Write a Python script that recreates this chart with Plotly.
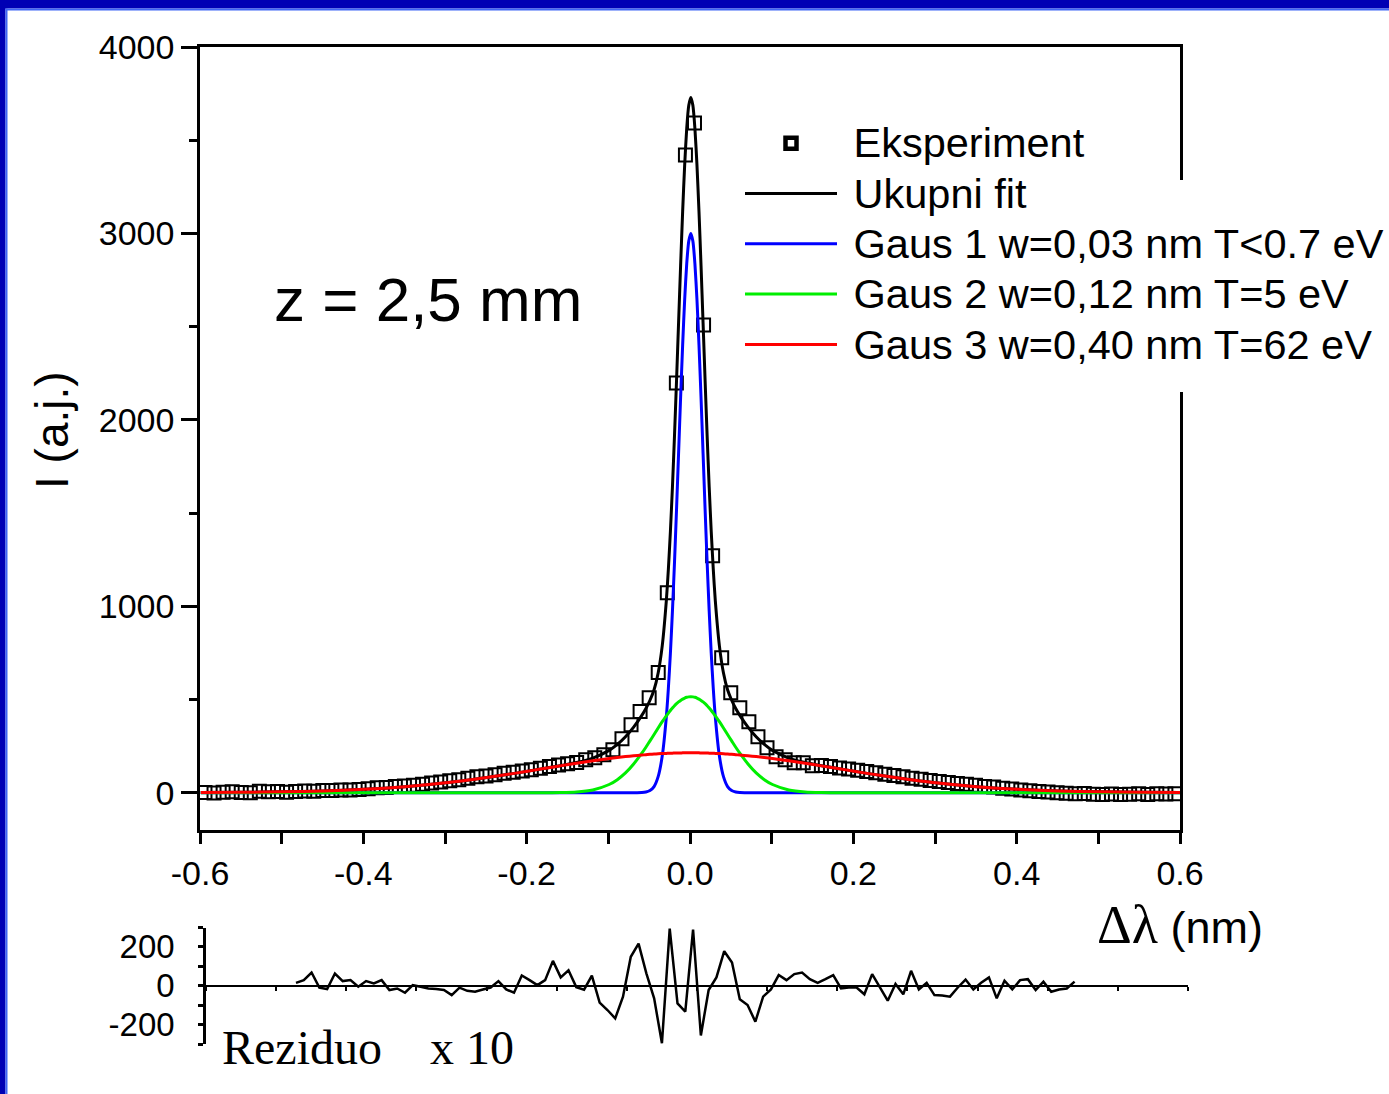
import plotly.graph_objects as go

# ---------------- data ----------------
data_x = [-0.5939, -0.5828, -0.5717, -0.5606, -0.5495, -0.5384, -0.5273, -0.5162, -0.5051, -0.4940,
          -0.4829, -0.4718, -0.4607, -0.4496, -0.4385, -0.4274, -0.4163, -0.4052, -0.3941, -0.3830,
          -0.3719, -0.3608, -0.3497, -0.3386, -0.3275, -0.3164, -0.3053, -0.2942, -0.2831, -0.2720,
          -0.2609, -0.2498, -0.2387, -0.2276, -0.2165, -0.2054, -0.1943, -0.1832, -0.1721, -0.1610,
          -0.1499, -0.1388, -0.1277, -0.1166, -0.1055, -0.0944, -0.0833, -0.0722, -0.0611, -0.0500,
          -0.0389, -0.0278, -0.0167, -0.0056, 0.0055, 0.0166, 0.0277, 0.0388, 0.0499, 0.0610,
          0.0721, 0.0832, 0.0943, 0.1054, 0.1165, 0.1276, 0.1387, 0.1498, 0.1609, 0.1720,
          0.1831, 0.1942, 0.2053, 0.2164, 0.2275, 0.2386, 0.2497, 0.2608, 0.2719, 0.2830,
          0.2941, 0.3052, 0.3163, 0.3274, 0.3385, 0.3496, 0.3607, 0.3718, 0.3829, 0.3940,
          0.4051, 0.4162, 0.4273, 0.4384, 0.4495, 0.4606, 0.4717, 0.4828, 0.4939, 0.5050,
          0.5161, 0.5272, 0.5383, 0.5494, 0.5605, 0.5716, 0.5827, 0.5938]
data_y = [1, -2, 3, 5, 1, 0, 8, 5, 7, 2,
          6, 9, 8, 12, 12, 14, 15, 17, 21, 26,
          28, 33, 36, 40, 46, 52, 57, 64, 70, 78,
          85, 90, 96, 104, 110, 116, 123, 131, 140, 148,
          156, 162, 177, 188, 204, 230, 290, 365, 436, 509,
          645, 1072, 2198, 3421, 3592, 2509, 1271, 724, 536, 456,
          381, 300, 241, 193, 177, 161, 161, 145, 146, 140,
          133, 127, 121, 114, 107, 99, 92, 85, 78, 72,
          66, 60, 55, 50, 45, 40, 34, 30, 24, 20,
          14, 10, 6, 4, 0, -3, -6, -4, -8, -9,
          -7, -10, -8, -6, -9, -5, -7, -6]

fit_x = [-0.599, -0.549, -0.499, -0.449, -0.399, -0.349, -0.299, -0.249, -0.219, -0.199,
         -0.179, -0.159, -0.139, -0.119, -0.099, -0.089, -0.079, -0.069, -0.059, -0.054,
         -0.049, -0.044, -0.039, -0.034, -0.029, -0.0265, -0.024, -0.0215, -0.019, -0.0165,
         -0.014, -0.0115, -0.009, -0.0065, -0.004, -0.0015, 0.001,
         0.0035, 0.006, 0.0085, 0.011, 0.0135, 0.016, 0.0185, 0.021, 0.0235, 0.026,
         0.0285, 0.031, 0.036, 0.041, 0.046, 0.051, 0.056, 0.061, 0.071, 0.081,
         0.091, 0.101, 0.121, 0.141, 0.161, 0.181, 0.201, 0.221, 0.251, 0.301,
         0.351, 0.401, 0.451, 0.501, 0.551, 0.601]
fit_total = [1, 2, 5, 9, 18, 32, 53, 82, 101, 115,
             130, 145, 162, 186, 227, 259, 300, 352, 415, 452,
             496, 552, 642, 788, 1029, 1198, 1401, 1640, 1913, 2210,
             2520, 2828, 3118, 3369, 3564, 3687, 3729,
             3687, 3564, 3369, 3118, 2828, 2520, 2210, 1913, 1640, 1401,
             1198, 1029, 788, 642, 552, 496, 452, 415, 352, 300,
             259, 227, 186, 162, 145, 130, 115, 101, 82, 53,
             32, 18, 9, 5, 2, 1]
gaus1 = [0, 0, 0, 0, 0, 0, 0, 0, 0, 0,
         0, 0, 0, 0, 0, 0, 0, 0, 1, 4,
         12, 33, 86, 197, 406, 559, 748, 974, 1233, 1519,
         1820, 2120, 2402, 2647, 2838, 2959, 3000,
         2959, 2838, 2647, 2402, 2120, 1820, 1519, 1233, 974, 748,
         559, 406, 197, 86, 33, 12, 4, 1, 0, 0,
         0, 0, 0, 0, 0, 0, 0, 0, 0, 0,
         0, 0, 0, 0, 0, 0]
gaus2 = [0, 0, 0, 0, 0, 0, 0, 0, 0, 0,
         0, 1, 4, 15, 44, 70, 106, 154, 212, 244,
         278, 312, 347, 381, 412, 427, 441, 454, 467, 478,
         487, 495, 502, 508, 512, 514, 515,
         514, 512, 508, 502, 495, 487, 478, 467, 454, 441,
         427, 412, 381, 347, 312, 278, 244, 212, 154, 106,
         70, 44, 15, 4, 1, 0, 0, 0, 0, 0,
         0, 0, 0, 0, 0, 0]
gaus3 = [1, 2, 5, 9, 18, 32, 53, 82, 101, 115,
         130, 144, 158, 171, 183, 189, 194, 198, 202, 204,
         206, 207, 209, 210, 211, 212, 212, 212, 213, 213,
         213, 213, 214, 214, 214, 214, 214,
         214, 214, 214, 214, 213, 213, 213, 213, 212, 212,
         212, 211, 210, 209, 207, 206, 204, 202, 198, 194,
         189, 183, 171, 158, 144, 130, 115, 101, 82, 53,
         32, 18, 9, 5, 2, 1]

# residual (x10), plotted on its own axis
res_x = data_x[2:103]
res_y = [15, 29, 68, -10, -17, 63, 24, 29, -5, 24,
         12, 29, -22, -14, -36, 3, -5, -14, -17, -22,
         -48, -10, -26, -31, -19, -9, 24, -19, -36, 53,
         29, 3, 29, 128, 43, 80, -7, -20, 52, -87,
         -125, -168, -56, 149, 217, 64, -65, -296, 294, -91,
         -133, 289, -256, -22, 43, 178, 120, -70, -99, -185,
         -56, -19, 55, 29, 60, 68, 34, 15, 34, 55,
         -14, -9, -9, -44, 60, -5, -77, 9, -44, 77,
         -19, 15, -48, -50, -56, -9, 32, -19, 15, 43,
         -65, 26, -19, 29, 34, -22, 21, -31, -19, -14,
         21]

x_tickvals = [-0.6, -0.4, -0.2, 0.0, 0.2, 0.4, 0.6]
x_ticktext = ["-0.6", "-0.4", "-0.2", "0.0", "0.2", "0.4", "0.6"]
y_tickvals = [0, 1000, 2000, 3000, 4000]
y_ticktext = ["0", "1000", "2000", "3000", "4000"]
r_tickvals = [-200, 0, 200]
r_ticktext = ["-200", "0", "200"]

names = ["Eksperiment", "Ukupni fit", "Gaus 1 w=0,03 nm T<0.7 eV",
         "Gaus 2 w=0,12 nm T=5 eV", "Gaus 3 w=0,40 nm T=62 eV"]

# ---------------- layout geometry ----------------
W, H = 1389, 1094
ML, MR, MT, MB = 200, 201, 47, 50
PW, PH = W - ML - MR, H - MT - MB


def px(x):
    return (x - ML) / PW


def py(y):
    return (H - MB - y) / PH


SANS = "Arial, Liberation Sans, sans-serif"
SERIF = "Times New Roman, Liberation Serif, serif"
LEG_SIZE = 41.5


def leg(name):
    return "<span style='font-size:%spx'>&nbsp;%s</span>" % (LEG_SIZE, name)


fig = go.Figure()
fig.add_trace(go.Scatter(x=data_x, y=data_y, mode="markers", showlegend=False,
                         marker=dict(symbol="square-open", size=13, color="black",
                                     line=dict(width=2, color="black")),
                         xaxis="x", yaxis="y"))
# legend entry for the experiment (thicker symbol, as in the reference legend)
fig.add_trace(go.Scatter(x=[None], y=[None], mode="markers", name=leg(names[0]),
                         marker=dict(symbol="square-open", size=11, color="black",
                                     line=dict(width=4.5, color="black"))))
line_kw = dict(shape="spline", smoothing=0.6, width=3)
fig.add_trace(go.Scatter(x=fit_x, y=fit_total, mode="lines", name=leg(names[1]),
                         line=dict(color="black", **line_kw)))
fig.add_trace(go.Scatter(x=fit_x, y=gaus1, mode="lines", name=leg(names[2]),
                         line=dict(color="#0000FF", **line_kw)))
fig.add_trace(go.Scatter(x=fit_x, y=gaus2, mode="lines", name=leg(names[3]),
                         line=dict(color="#00EE00", **line_kw)))
fig.add_trace(go.Scatter(x=fit_x, y=gaus3, mode="lines", name=leg(names[4]),
                         line=dict(color="#FF0000", **line_kw)))
fig.add_trace(go.Scatter(x=res_x, y=res_y, mode="lines", showlegend=False,
                         line=dict(color="black", width=2.5),
                         xaxis="x2", yaxis="y2"))

axis_common = dict(showgrid=False, zeroline=False, showline=True, linecolor="black",
                   linewidth=2.5, tickcolor="black", tickwidth=2.5,
                   tickfont=dict(family=SANS, size=34, color="black"))

fig.update_layout(
    width=W, height=H,
    margin=dict(l=ML, r=MR, t=MT, b=MB, pad=0, autoexpand=False),
    paper_bgcolor="white", plot_bgcolor="rgba(0,0,0,0)",
    showlegend=True,
    legend=dict(x=px(740), y=py(113), xanchor="left", yanchor="top",
                bgcolor="rgba(0,0,0,0)", borderwidth=0,
                font=dict(family=SANS, size=36.4, color="black"),
                itemwidth=92, tracegroupgap=0, itemsizing="trace"),
    xaxis=dict(domain=[0, px(1180)], range=[-0.6, 0.6], anchor="y", mirror=True,
               ticks="outside", ticklen=11, tickvals=x_tickvals, ticktext=x_ticktext,
               minor=dict(dtick=0.1, tick0=0, ticks="outside", ticklen=11,
                          tickcolor="black", tickwidth=2.5),
               **axis_common),
    yaxis=dict(domain=[py(830), 1], range=[-200, 4000], anchor="x", mirror=True,
               ticks="outside", ticklen=16, tickvals=y_tickvals, ticktext=y_ticktext,
               minor=dict(dtick=500, tick0=0, ticks="outside", ticklen=8,
                          tickcolor="black", tickwidth=2.5),
               **axis_common),
    xaxis2=dict(domain=[px(206), 1], range=[-0.7, 0.7], anchor="free",
                position=py(985.75), showticklabels=False,
                ticks="outside", ticklen=4, dtick=0.1, tick0=0,
                showgrid=False, zeroline=False, showline=True, linecolor="black",
                linewidth=1.5, tickcolor="black", tickwidth=1.5),
    yaxis2=dict(domain=[0, py(927.5)], range=[-300, 300], anchor="x2",
                ticks="outside", ticklen=5, tickvals=r_tickvals, ticktext=r_ticktext,
                ticklabelstandoff=17,
                minor=dict(tickvals=[-300, -100, 100, 300], ticks="outside", ticklen=5,
                           tickcolor="black", tickwidth=2.5),
                showgrid=False, zeroline=False, showline=True, linecolor="black",
                linewidth=2.5, tickcolor="black", tickwidth=2.5,
                tickfont=dict(family=SANS, size=33, color="black")),
)

shapes = [
    # hide right frame line behind legend
    dict(type="rect", xref="paper", yref="paper", x0=px(1174), x1=px(1187),
         y0=py(392), y1=py(180), fillcolor="white", line=dict(width=0), layer="above"),
    # blue slide frame (left and top)
    dict(type="rect", xref="paper", yref="paper", x0=px(0), x1=px(5.5),
         y0=py(H), y1=py(0), fillcolor="#0000B4", line=dict(width=0), layer="above"),
    dict(type="rect", xref="paper", yref="paper", x0=px(5.5), x1=px(7.5),
         y0=py(H), y1=py(8.5), fillcolor="#3F66F5", line=dict(width=0), layer="above"),
    dict(type="rect", xref="paper", yref="paper", x0=px(0), x1=px(W),
         y0=py(8.5), y1=py(0), fillcolor="#0000B4", line=dict(width=0), layer="above"),
    dict(type="rect", xref="paper", yref="paper", x0=px(5.5), x1=px(W),
         y0=py(10.5), y1=py(8.5), fillcolor="#3F66F5", line=dict(width=0), layer="above"),
]
fig.update_layout(shapes=shapes)

annotations = [
    dict(text="z = 2,5 mm", x=px(428), y=py(300), xanchor="center", yanchor="middle",
         font=dict(family=SANS, size=62, color="black")),
    dict(text="I (a.j.)", x=px(52), y=py(430), xanchor="center", yanchor="middle",
         textangle=-90, font=dict(family=SANS, size=46, color="black")),
    dict(text="<span style='font-family:Liberation Serif, Times New Roman, serif;font-size:54px'>\u0394\u03bb</span> (nm)",
         x=px(1180), y=py(925), xanchor="center", yanchor="middle",
         font=dict(family=SANS, size=45, color="black")),
    dict(text="Reziduo&nbsp;&nbsp;&nbsp;&nbsp;x 10", x=px(220), y=py(1047),
         xanchor="left", yanchor="middle",
         font=dict(family=SERIF, size=48, color="black")),
]
for a in annotations:
    a.update(xref="paper", yref="paper", showarrow=False)
fig.update_layout(annotations=annotations)

fig.write_html("out.html")
